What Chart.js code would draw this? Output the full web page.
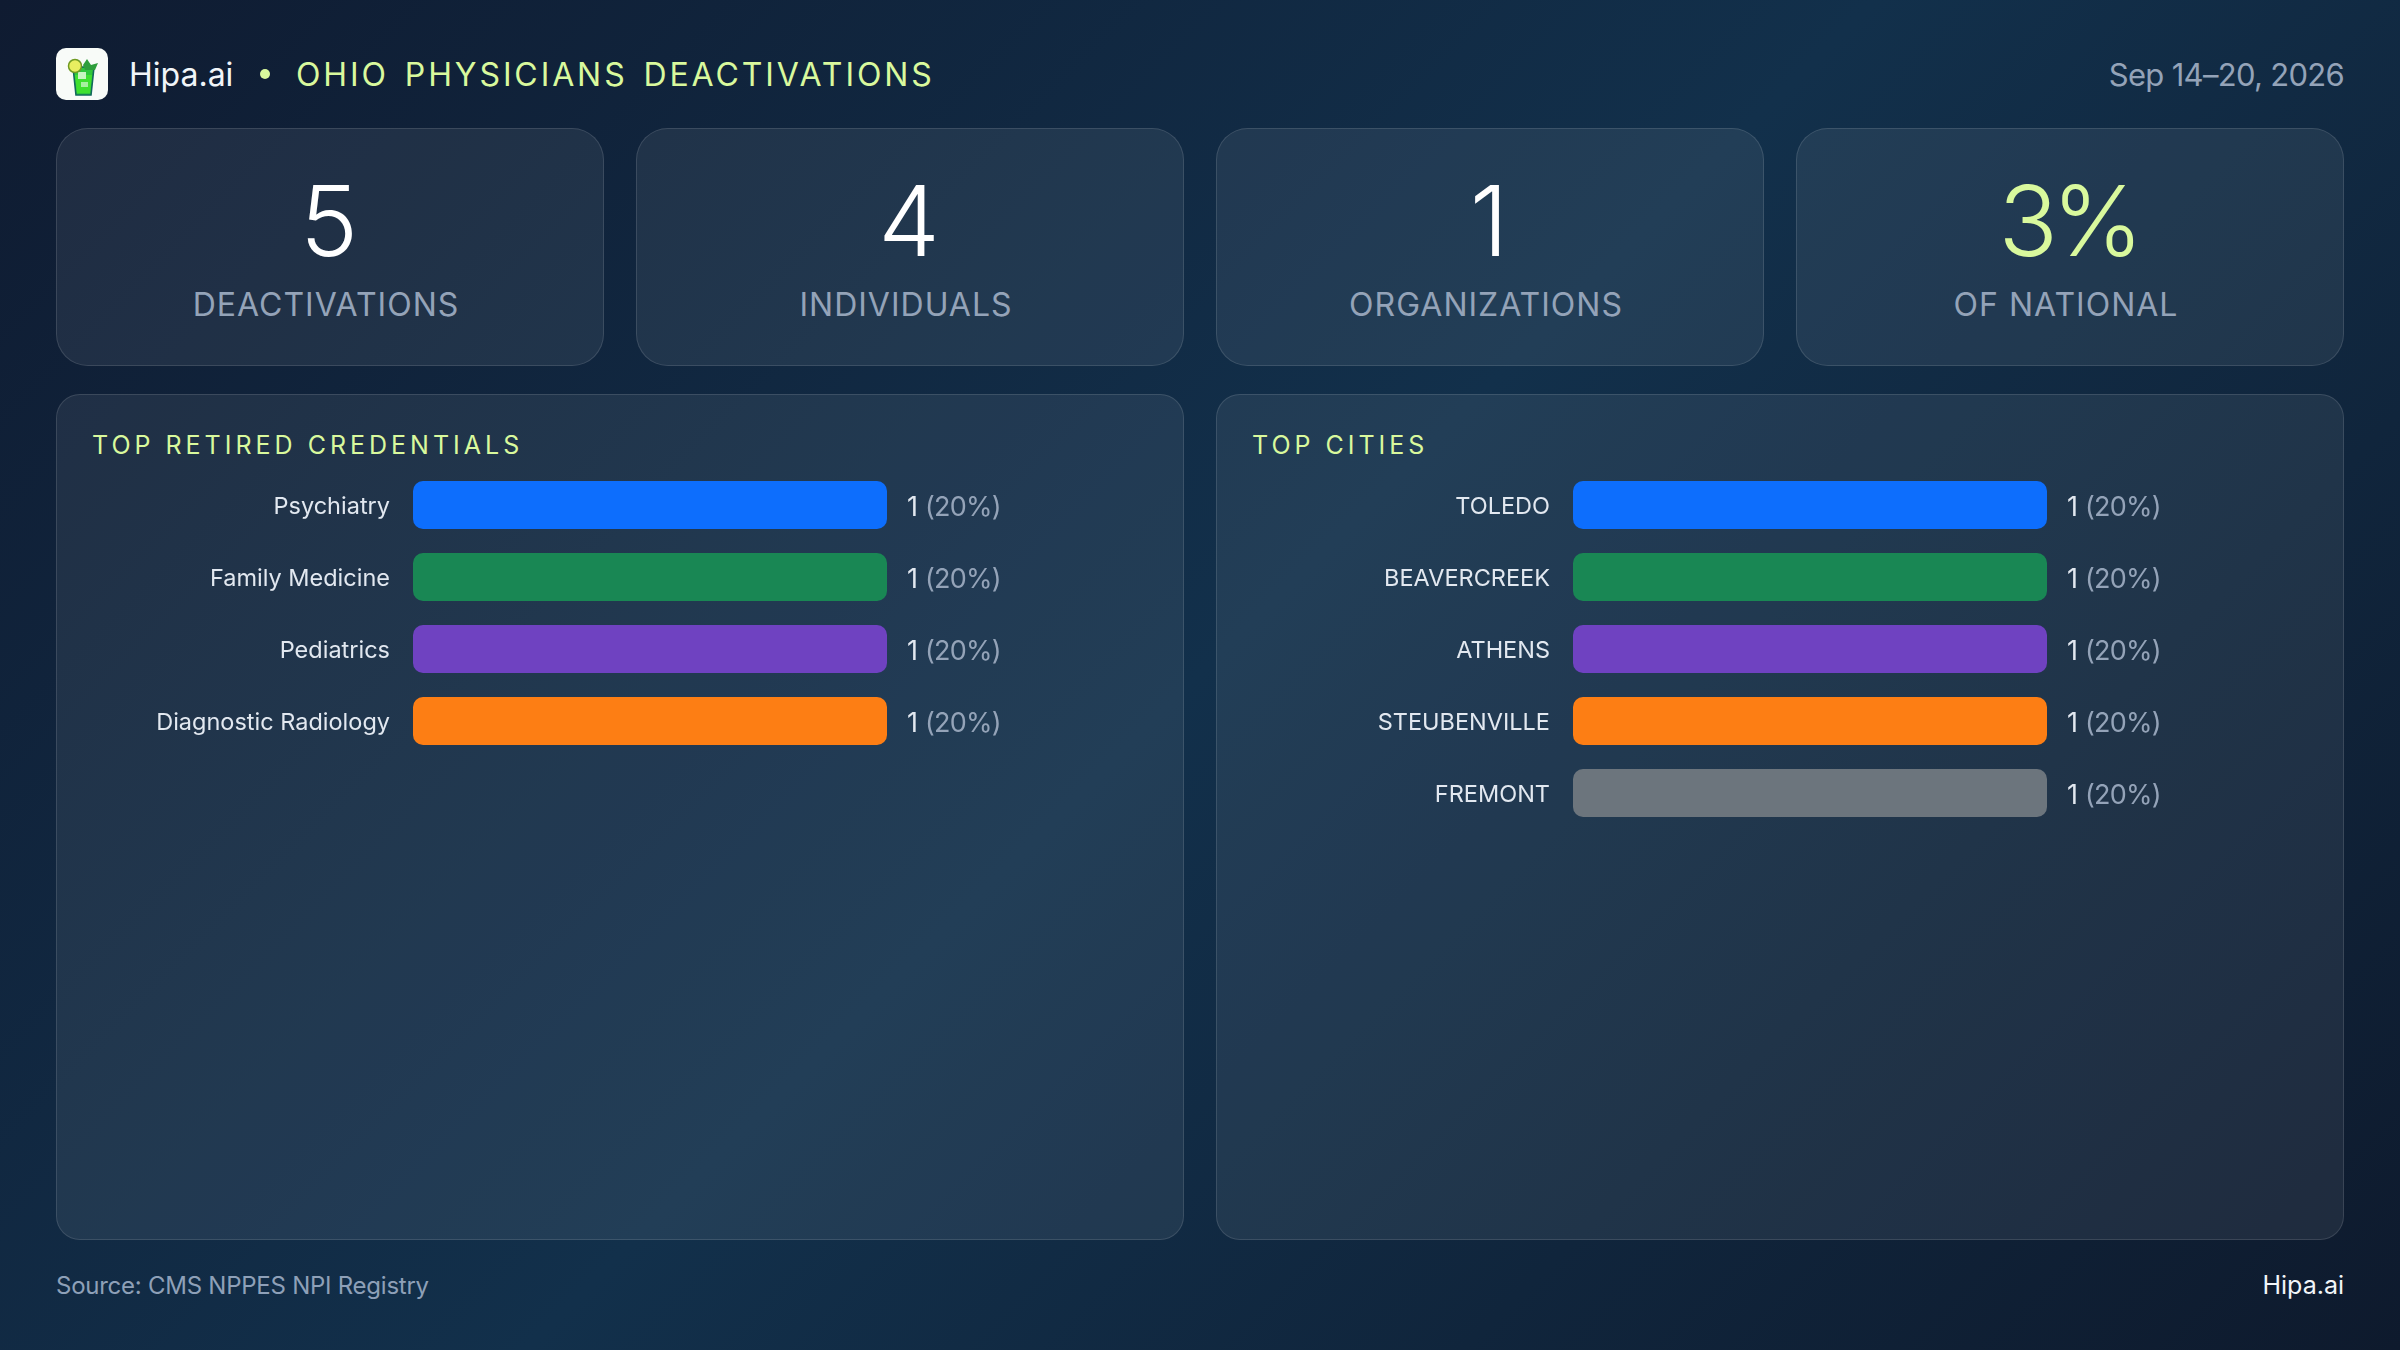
<!DOCTYPE html>
<html>
<head>
<meta charset="utf-8">
<title>Ohio Physicians Deactivations</title>
<script src="https://cdn.jsdelivr.net/npm/chart.js@4"></script>
<style>
  html, body { margin: 0; padding: 0; }
  body {
    width: 2400px; height: 1350px; overflow: hidden; position: relative;
    background: linear-gradient(135deg, #0f1b31 0%, #12304b 50%, #0e1a2d 100%);
    font-family: Inter, "Noto Sans", sans-serif; color: #f1f5f9;
  }
  .abs { position: absolute; white-space: nowrap; line-height: 1; }
  .logo { position: absolute; left: 56px; top: 48px; width: 52px; height: 52px; }
  .brand { left: 129px; top: 58.5px; font-size: 32px; color: #f1f5f9; }
  .dot { position: absolute; left: 260px; top: 69px; width: 10px; height: 10px; border-radius: 50%; background: #d9f99d; }
  .heading { left: 296px; top: 58.5px; font-size: 32px; letter-spacing: 2.9px; word-spacing: 4px; color: #d9f99d; }
  .date { right: 56px; top: 58.5px; font-size: 31px; letter-spacing: -0.7px; color: #94a3b8; }
  .card, .panel {
    position: absolute; box-sizing: border-box;
    background: rgba(255,255,255,0.07); border: 1.5px solid rgba(255,255,255,0.12);
  }
  .card { top: 128px; width: 548px; height: 238px; border-radius: 32px; }
  .stat { left: -2px; width: 100%; top: 43px; text-align: center; font-size: 98px; font-weight: 350; letter-spacing: -2px; color: #fff; position: absolute; line-height: 1; }
  .stat.accent { color: #d9f99d; letter-spacing: -6px; }
  .stat-label { left: -4px; width: 100%; top: 160px; text-align: center; font-size: 32px; letter-spacing: 1px; color: #94a3b8; position: absolute; line-height: 1; }
  .panel { top: 394px; width: 1128px; height: 846px; border-radius: 24px; }
  .panel-title { position: absolute; left: 35px; top: 38px; font-size: 25px; letter-spacing: 4px; color: #d9f99d; line-height: 1; white-space: nowrap; }
  canvas { position: absolute; left: 0; top: 0; }
  .source { left: 56px; top: 1274px; font-size: 24px; letter-spacing: -0.25px; color: #8ea0b8; }
  .site { right: 56px; top: 1273px; font-size: 25px; color: #f1f5f9; }
</style>
</head>
<body>
<svg class="logo" viewBox="0 0 52 52">
  <rect width="52" height="52" rx="10" fill="#f8fbf8"/>
  <path d="M17 19 L38 19 L35 47 L20 47 Z" fill="#2fc63c" stroke="#12685c" stroke-width="1.6"/>
  <path d="M19 27 L36 27 L34 45 L21 45 Z" fill="#3fe02f"/>
  <rect x="22" y="24" width="8" height="7" fill="#c8f5c0"/>
  <rect x="25" y="34" width="7" height="5" fill="#a8f0a0"/>
  <path d="M27 17 L31 11 L35 17 L42 15 L39 22 L29 22 Z" fill="#2e9e3c"/>
  <circle cx="19" cy="18" r="6.5" fill="#e8ee60" stroke="#6f9a22" stroke-width="1.5"/>
</svg>
<div class="abs brand">Hipa.ai</div>
<div class="dot"></div>
<div class="abs heading">OHIO PHYSICIANS DEACTIVATIONS</div>
<div class="abs date">Sep 14–20, 2026</div>

<div id="cards"></div>

<div class="panel" style="left:56px"><div class="panel-title">TOP RETIRED CREDENTIALS</div><canvas id="credentialBar" width="1125" height="843"></canvas></div>
<div class="panel" style="left:1216px"><div class="panel-title">TOP CITIES</div><canvas id="cityBar" width="1125" height="843"></canvas></div>

<div class="abs source">Source: CMS NPPES NPI Registry</div>
<div class="abs site">Hipa.ai</div>

<script>
// Headline numbers
const statValues = ['5', '4', '1', '3%'];
const statLabels = ['DEACTIVATIONS', 'INDIVIDUALS', 'ORGANIZATIONS', 'OF NATIONAL'];

// Left chart
const credentials = ['Psychiatry', 'Family Medicine', 'Pediatrics', 'Diagnostic Radiology'];
const credentialCounts = [1, 1, 1, 1];
const credentialShares = [20, 20, 20, 20];

// Right chart
const cities = ['TOLEDO', 'BEAVERCREEK', 'ATHENS', 'STEUBENVILLE', 'FREMONT'];
const cityCounts = [1, 1, 1, 1, 1];
const cityShares = [20, 20, 20, 20, 20];

const barColors = ['#0d6efd', '#198754', '#6f42c1', '#fd7e14', '#6c757d'];

// Build the four stat cards
const cardsEl = document.getElementById('cards');
statValues.forEach((value, i) => {
    const card = document.createElement('div');
    card.className = 'card';
    card.style.left = (56 + i * 580) + 'px';
    const accent = i === statValues.length - 1 ? ' accent' : '';
    card.innerHTML = `<div class="stat${accent}">${value}</div><div class="stat-label">${statLabels[i]}</div>`;
    cardsEl.appendChild(card);
});

// Draws the category names left of the bars and "1 (20%)" to the right,
// a plugin rather than ticks because the text sits a touch below the bar centre
const rowLabels = {
    id: 'rowLabels',
    afterDatasetsDraw(chart, args, opts) {
        const ctx = chart.ctx;
        const yScale = chart.scales.y;
        const meta = chart.getDatasetMeta(0);
        ctx.save();
        ctx.textBaseline = 'middle';
        meta.data.forEach((bar, i) => {
            const y = yScale.getPixelForTick(i);
            ctx.textAlign = 'right';
            ctx.font = '400 23.5px Inter';
            ctx.letterSpacing = '0px';
            ctx.fillStyle = '#e2e8f0';
            ctx.fillText(chart.data.labels[i], yScale.right - 23, y + 1.5);
            ctx.textAlign = 'left';
            ctx.font = '400 27px Inter';
            ctx.letterSpacing = '-0.8px';
            ctx.fillText(String(chart.data.datasets[0].data[i]), bar.x + 20, y + 2.5);
            ctx.fillStyle = '#94a3b8';
            ctx.fillText(`(${opts.shares[i]}%)`, bar.x + 38, y + 2.5);
        });
        ctx.restore();
    }
};

function drawBars(canvasId, labels, counts, shares) {
    const rowHeight = 72;
    return new Chart(document.getElementById(canvasId), {
        type: 'bar',
        data: {
            labels: labels,
            datasets: [{
                data: counts,
                backgroundColor: barColors.slice(0, labels.length),
                borderRadius: 10,
                borderSkipped: false,
                barPercentage: 2 / 3,
                categoryPercentage: 1
            }]
        },
        options: {
            indexAxis: 'y',
            responsive: false,
            animation: false,
            layout: {
                padding: { top: 74, right: 295, bottom: 843 - 74 - rowHeight * labels.length, left: 0 }
            },
            plugins: {
                legend: { display: false },
                tooltip: { enabled: false },
                rowLabels: { shares: shares }
            },
            scales: {
                x: { display: false, min: 0, max: 1 },
                y: {
                    afterFit: scale => { scale.width = 356; },
                    border: { display: false },
                    grid: { display: false, drawTicks: false },
                    ticks: { display: false }
                }
            }
        },
        plugins: [rowLabels]
    });
}

drawBars('credentialBar', credentials, credentialCounts, credentialShares);
drawBars('cityBar', cities, cityCounts, cityShares);
</script>
</body>
</html>
